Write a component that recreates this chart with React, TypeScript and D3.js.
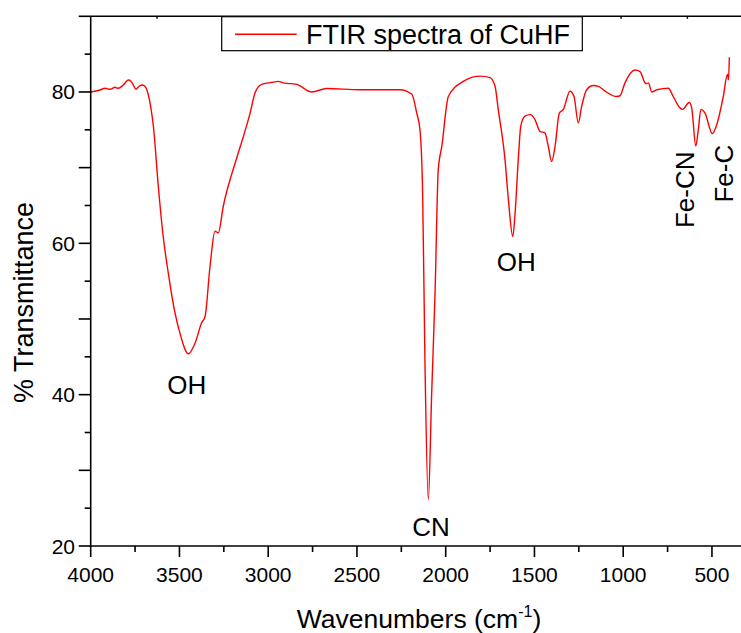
import React from "react";
import * as d3 from "d3";

// FTIR spectrum of CuHF
const wavenumbers = [4000,3948,3919,3891,3863,3845,3816,3788,3775,3760,3745,3726,3707,3690,3675,3662,3647,3619,3594,3563,3525,3497,3450,3412,3375,3356,3328,3300,3281,3253,3177,3140,3102,3074,3037,2971,2943,2915,2839,2755,2670,2483,2370,2257,2191,2163,2145,2130,2117,2098,2079,2060,2042,2022,1985,1901,1807,1750,1722,1704,1666,1647,1622,1609,1591,1577,1553,1525,1497,1469,1441,1422,1403,1384,1360,1337,1300,1277,1253,1234,1206,1168,1140,1102,1037,1018,990,933,905,877,868,858,839,811,746,718,680,665,628,614,591,577,562,539,498,470,436,413,407,402];
const transmittance = [80.0,80.26,80.49,80.35,80.62,80.49,80.92,81.58,81.45,80.92,80.35,80.79,80.92,80.62,79.6,78.06,75.5,67.5,61.4,56.1,50.8,48.1,45.4,46.8,49.5,50.3,56.9,61.6,61.4,64.9,71.3,74.1,77.2,79.9,81.0,81.3,81.4,81.2,81.0,80.0,80.45,80.3,80.3,80.3,79.7,77.2,75.0,66.7,44.6,26.1,40.2,53.4,69.7,72.8,79.4,81.4,82.1,81.9,80.75,77.7,71.1,65.8,60.9,64.0,71.1,75.5,76.8,77.0,76.35,74.8,74.6,72.8,70.8,72.8,77.2,77.7,80.1,79.4,75.9,78.1,80.3,80.85,80.75,80.1,79.4,79.5,81.2,82.9,82.7,81.2,81.1,81.2,80.0,80.3,80.5,79.4,77.9,77.7,78.6,77.9,72.85,75.0,77.7,77.2,74.5,75.9,79.4,82.3,81.6,84.6];

const xMajorTicks = [4000, 3500, 3000, 2500, 2000, 1500, 1000, 500];
const xMinorTicks = [3750, 3250, 2750, 2250, 1750, 1250, 750];
const yMajorTicks = [20, 30, 40, 50, 60, 70, 80, 90];
const yLabelTicks = [20, 40, 60, 80];
const yMinorTicks = [25, 35, 45, 55, 65, 75, 85];

const seriesName = "FTIR spectra of CuHF";
const xTitle = "Wavenumbers (cm";
const yTitle = "% Transmittance";

const annotations = [
  { text: "OH", w: 3450, t: 45.4, dx: -21, dy: 40, rotate: false },
  { text: "CN", w: 2098, t: 26.1, dx: -16, dy: 36, rotate: false },
  { text: "OH", w: 1622, t: 60.9, dx: -16, dy: 34, rotate: false },
  { text: "Fe-CN", w: 591, t: 72.85, dx: -2, dy: 82, rotate: true },
  { text: "Fe-C", w: 498, t: 74.5, dx: 21, dy: 69, rotate: true },
];

const FONT = "'Liberation Sans', Arial, Helvetica, sans-serif";

export default function App() {
  const W = 741, H = 633;
  const left = 90.7, axisRight = 741, top = 16.3, bottom = 546;
  const x = d3.scaleLinear().domain([4000, 400]).range([left, 729.7]);
  const y = d3.scaleLinear().domain([20, 90]).range([bottom, top]);
  const topScale = d3.scaleLinear().domain([0, (axisRight - left) / 66.3]).range([left, axisRight]);
  const topTicks = d3.range(1, Math.floor((axisRight - left) / 66.3) + 1);

  const data = wavenumbers.map((w, i) => ({ w, t: transmittance[i] }));
  const line = d3
    .line<{ w: number; t: number }>()
    .x((d) => x(d.w))
    .y((d) => y(d.t))
    .curve(d3.curveMonotoneX);

  const axisStroke = "#000";
  return (
    <svg
      width={W}
      height={H}
      style={{ position: "absolute", left: 0, top: 0, background: "#fff" }}
      fontFamily={FONT}
    >
      <rect x={0} y={0} width={W} height={H} fill="#fff" />
      {/* spectrum */}
      <path d={line(data) || ""} fill="none" stroke="#ff0000" strokeWidth={1.4} />

      {/* top frame */}
      <line x1={left} x2={axisRight} y1={top} y2={top} stroke={axisStroke} strokeWidth={1.6} />
      {topTicks.map((k) => (
        <line key={"tt" + k} x1={topScale(k)} x2={topScale(k)} y1={top} y2={top + 2.5} stroke={axisStroke} strokeWidth={1.4} />
      ))}

      {/* bottom axis */}
      <line x1={left} x2={axisRight} y1={bottom} y2={bottom} stroke={axisStroke} strokeWidth={1.6} />
      {xMajorTicks.map((v) => (
        <g key={"xm" + v}>
          <line x1={x(v)} x2={x(v)} y1={bottom} y2={bottom + 11} stroke={axisStroke} strokeWidth={1.6} />
          <text x={x(v)} y={581.5} textAnchor="middle" fontSize={21} fill="#000">
            {v}
          </text>
        </g>
      ))}
      {xMinorTicks.map((v) => (
        <line key={"xn" + v} x1={x(v)} x2={x(v)} y1={bottom} y2={bottom + 6} stroke={axisStroke} strokeWidth={1.6} />
      ))}

      {/* left axis */}
      <line x1={left} x2={left} y1={top} y2={bottom} stroke={axisStroke} strokeWidth={1.6} />
      {yMajorTicks.map((v) => (
        <line key={"ym" + v} x1={left - 12} x2={left} y1={y(v)} y2={y(v)} stroke={axisStroke} strokeWidth={1.6} />
      ))}
      {yMinorTicks.map((v) => (
        <line key={"yn" + v} x1={left - 6} x2={left} y1={y(v)} y2={y(v)} stroke={axisStroke} strokeWidth={1.6} />
      ))}
      {yLabelTicks.map((v) => (
        <text key={"yl" + v} x={75} y={y(v) + 7.5} textAnchor="end" fontSize={21} fill="#000">
          {v}
        </text>
      ))}

      {/* axis titles */}
      <text x={419} y={628} textAnchor="middle" fontSize={26.5} fill="#000">
        {xTitle}
        <tspan dy={-11} fontSize={16}>-1</tspan>
        <tspan dy={11}>)</tspan>
      </text>
      <text
        transform={`translate(33,302.5) rotate(-90)`}
        textAnchor="middle"
        fontSize={27}
        fill="#000"
      >
        {yTitle}
      </text>

      {/* annotations */}
      {annotations.map((a, i) =>
        a.rotate ? (
          <text
            key={"an" + i}
            transform={`translate(${x(a.w) + a.dx},${y(a.t) + a.dy}) rotate(-90)`}
            fontSize={26}
            fill="#000"
          >
            {a.text}
          </text>
        ) : (
          <text key={"an" + i} x={x(a.w) + a.dx} y={y(a.t) + a.dy} fontSize={26} fill="#000">
            {a.text}
          </text>
        )
      )}

      {/* legend */}
      <rect x={221.7} y={16.7} width={360.6} height={34} fill="#fff" stroke="#000" strokeWidth={1.2} />
      <line x1={235} x2={296.7} y1={34.3} y2={34.3} stroke="#ff0000" strokeWidth={1.4} />
      <text x={306} y={44.3} fontSize={27} fill="#000">
        {seriesName}
      </text>
    </svg>
  );
}
